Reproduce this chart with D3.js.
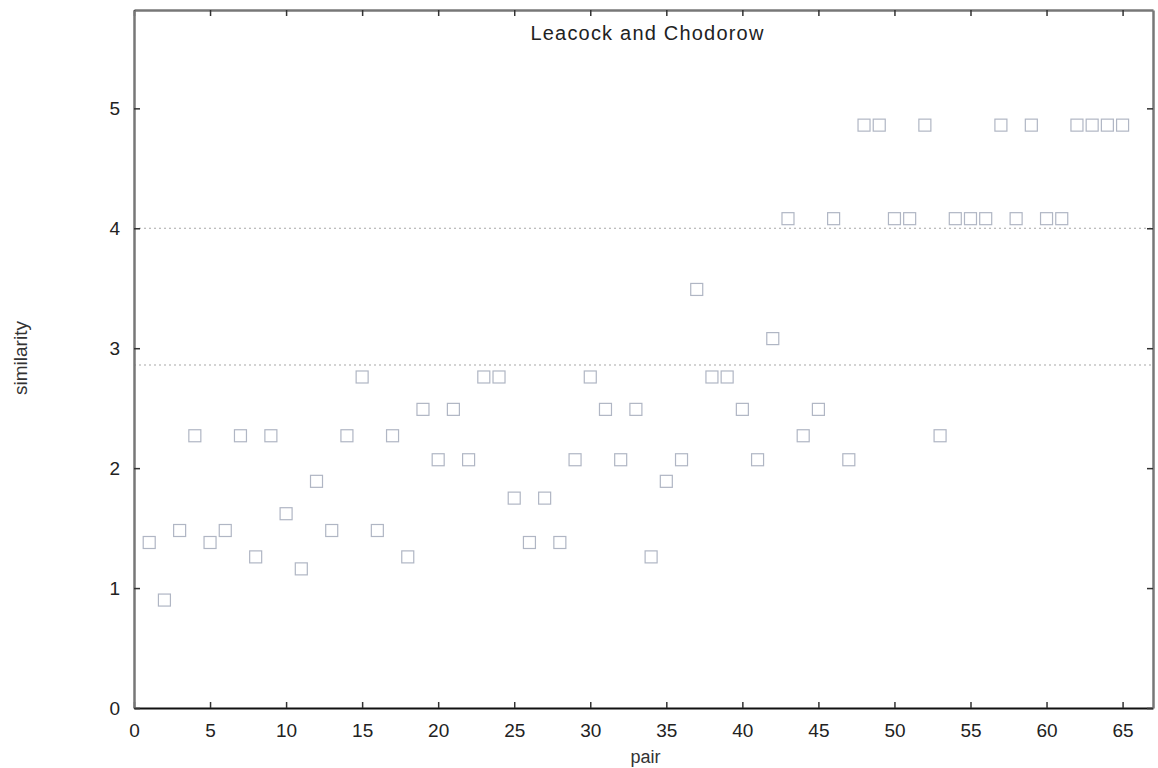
<!DOCTYPE html>
<html>
<head>
<meta charset="utf-8">
<script src="https://cdnjs.cloudflare.com/ajax/libs/d3/7.8.5/d3.min.js"></script>
<style>
  html, body { margin: 0; padding: 0; background: #fff; }
  svg { display: block; font-family: "Liberation Sans", Arial, sans-serif; }
</style>
</head>
<body>
<svg id="chart" width="1158" height="768"></svg>
<script>
// ---- data ----
const pairs = d3.range(1, 66);
const similarity = [
  1.38, 0.90, 1.48, 2.27, 1.38, 1.48, 2.27, 1.26, 2.27, 1.62,
  1.16, 1.89, 1.48, 2.27, 2.76, 1.48, 2.27, 1.26, 2.49, 2.07,
  2.49, 2.07, 2.76, 2.76, 1.75, 1.38, 1.75, 1.38, 2.07, 2.76,
  2.49, 2.07, 2.49, 1.26, 1.89, 2.07, 3.49, 2.76, 2.76, 2.49,
  2.07, 3.08, 4.08, 2.27, 2.49, 4.08, 2.07, 4.86, 4.86, 4.08,
  4.08, 4.86, 2.27, 4.08, 4.08, 4.08, 4.86, 4.08, 4.86, 4.08,
  4.08, 4.86, 4.86, 4.86, 4.86
];
const refLines = [4.0, 2.86];
const xTicks = [0, 5, 10, 15, 20, 25, 30, 35, 40, 45, 50, 55, 60, 65];
const yTicks = [0, 1, 2, 3, 4, 5];
const titleText = "Leacock and Chodorow";
const xLabel = "pair";
const yLabel = "similarity";

// ---- layout ----
const pLeft = 134, pRight = 1153, pTop = 10, pBottom = 708;
const svg = d3.select("#chart");
const x = d3.scaleLinear().domain([0, 67]).range([pLeft, pRight]);
const y = d3.scaleLinear().domain([0, 5.82]).range([pBottom, pTop]);

// reference dotted lines
svg.append("g").selectAll("line").data(refLines).join("line")
  .attr("x1", pLeft).attr("x2", pRight)
  .attr("y1", d => y(d)).attr("y2", d => y(d))
  .attr("stroke", "#a8a8a8").attr("stroke-width", 1.2)
  .attr("stroke-dasharray", "2,3");

// markers
const ms = 12;
svg.append("g").selectAll("rect").data(pairs).join("rect")
  .attr("x", (d) => x(d) - ms / 2)
  .attr("y", (d, i) => y(similarity[i]) - ms / 2)
  .attr("width", ms).attr("height", ms)
  .attr("fill", "none")
  .attr("stroke", "#b0b6c4").attr("stroke-width", 1.2);

// axes (ticks inward)
const fs = "19px";
const xAxis = svg.append("g").attr("transform", `translate(0,${pBottom})`)
  .call(d3.axisBottom(x).tickValues(xTicks).tickFormat(d3.format("d")).tickSizeInner(-6).tickSizeOuter(0).tickPadding(16));
xAxis.select(".domain").attr("stroke", "#111").attr("stroke-width", 2.2);
xAxis.selectAll("text").attr("font-size", fs).attr("fill", "#222");
xAxis.selectAll(".tick line").attr("stroke", "#333").attr("stroke-width", 1.5);

const xTopAxis = svg.append("g").attr("transform", `translate(0,${pTop})`)
  .call(d3.axisTop(x).tickValues(xTicks).tickSizeInner(-6).tickSizeOuter(0).tickFormat(""));
xTopAxis.select(".domain").attr("stroke", "#777").attr("stroke-width", 2.5);
xTopAxis.selectAll(".tick line").attr("stroke", "#333").attr("stroke-width", 1.5);

const yAxis = svg.append("g").attr("transform", `translate(${pLeft},0)`)
  .call(d3.axisLeft(y).tickValues(yTicks).tickFormat(d3.format("d")).tickSizeInner(-6).tickSizeOuter(0).tickPadding(14));
yAxis.select(".domain").attr("stroke", "#777").attr("stroke-width", 2.5);
yAxis.selectAll("text").attr("font-size", fs).attr("fill", "#222");
yAxis.selectAll(".tick line").attr("stroke", "#333").attr("stroke-width", 1.5);

const yRightAxis = svg.append("g").attr("transform", `translate(${pRight},0)`)
  .call(d3.axisRight(y).tickValues(yTicks).tickSizeInner(-6).tickSizeOuter(0).tickFormat(""));
yRightAxis.select(".domain").attr("stroke", "#777").attr("stroke-width", 2.5);
yRightAxis.selectAll(".tick line").attr("stroke", "#333").attr("stroke-width", 1.5);

// title
svg.append("text")
  .attr("x", (pLeft + pRight) / 2 + 4).attr("y", 40)
  .attr("text-anchor", "middle")
  .attr("font-size", "20px").attr("letter-spacing", "1.2px").attr("fill", "#222")
  .text(titleText);

// axis labels
svg.append("text")
  .attr("x", (pLeft + pRight) / 2 + 2).attr("y", 763)
  .attr("text-anchor", "middle")
  .attr("font-size", "18px").attr("fill", "#333")
  .text(xLabel);

svg.append("text")
  .attr("transform", "translate(27,358) rotate(-90)")
  .attr("text-anchor", "middle")
  .attr("font-size", "19px").attr("fill", "#333")
  .text(yLabel);
</script>
</body>
</html>
